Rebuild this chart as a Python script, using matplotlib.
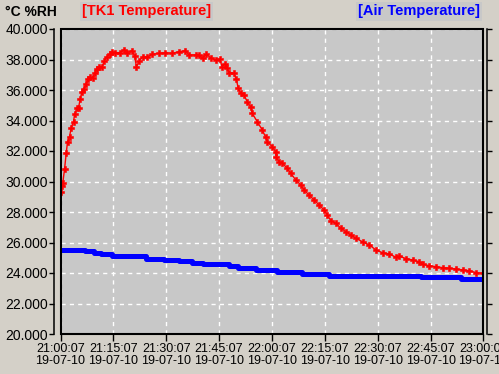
import matplotlib
matplotlib.use("Agg")
import matplotlib.pyplot as plt
from matplotlib.patches import Rectangle

plt.rcParams["font.family"] = ["Liberation Sans", "DejaVu Sans"]

# ---- data (minutes after 21:00:07) ----
tk1_minutes = [0, 0.43, 0.65, 1.14, 1.62, 1.99, 2.56, 3.04, 3.70, 3.98, 4.64, 5.12, 5.60, 6.06,
               6.54, 7.19, 7.76, 8.45, 9.10, 9.67, 10.32, 10.81, 11.74, 12.43, 13.17, 14.13,
               14.59, 15.55, 16.98, 17.90, 18.85, 20.27, 21.04, 21.53, 22.38, 23.32, 24.54,
               25.96, 27.87, 29.77, 31.65, 33.56, 35.46, 36.40, 38.30, 39.24, 40.38, 41.32,
               42.57, 43.99, 45.13, 45.87, 46.64, 47.29, 47.77, 49.20, 49.85, 50.42, 51.10,
               52.04, 52.98, 53.94, 54.40, 55.82, 57.24, 58.21, 58.66, 60.09, 61.05, 61.22,
               62.00, 62.93, 64.35, 65.32, 66.74, 68.16, 69.10, 70.52, 71.94, 73.36, 74.78,
               75.72, 76.69, 78.11, 79.53, 80.96, 82.38, 83.80, 85.68, 87.58, 89.49, 91.36,
               93.27, 95.18, 96.11, 98.02, 99.90, 101.80, 102.74, 104.64, 106.55, 108.43,
               110.33, 112.24, 114.11, 116.02, 117.92, 119.80]
tk1_values = [29.30, 29.72, 29.90, 30.80, 31.85, 32.60, 32.94, 33.53, 33.92, 34.40, 34.80, 34.84,
              35.41, 35.89, 36.05, 36.40, 36.70, 36.83, 36.77, 37.10, 37.40, 37.50, 37.49, 37.90,
              38.18, 38.36, 38.47, 38.45, 38.45, 38.62, 38.45, 38.58, 38.23, 37.53, 37.92, 38.18,
              38.14, 38.34, 38.40, 38.45, 38.40, 38.51, 38.58, 38.30, 38.30, 38.30, 38.08, 38.34,
              38.12, 37.97, 38.03, 37.53, 37.70, 37.46, 37.13, 37.10, 36.70, 36.15, 35.78, 35.67,
              35.23, 34.90, 34.47, 33.92, 33.38, 32.90, 32.60, 32.28, 31.95, 31.59, 31.30, 31.19,
              30.87, 30.54, 30.10, 29.77, 29.44, 29.11, 28.79, 28.46, 28.13, 27.80, 27.43, 27.26,
              26.93, 26.71, 26.49, 26.27, 26.05, 25.84, 25.51, 25.33, 25.25, 25.03, 25.11, 24.94,
              24.85, 24.74, 24.57, 24.48, 24.41, 24.35, 24.31, 24.26, 24.20, 24.15, 24.02, 23.98]

air_minutes = [0, 7.02, 9.38, 11.37, 14.50, 24.31, 29.29, 33.55, 37.34, 40.38, 47.77, 50.47,
               55.45, 61.51, 68.62, 76.21, 102.28, 113.74, 120]
air_values = [25.51, 25.44, 25.33, 25.25, 25.10, 24.92, 24.87, 24.77, 24.68, 24.57, 24.48, 24.31,
              24.18, 24.05, 23.96, 23.82, 23.72, 23.61, 23.61]

x_ticks = [0, 15, 30, 45, 60, 75, 90, 105, 120]
x_labels = ["21:00:07\n19-07-10", "21:15:07\n19-07-10", "21:30:07\n19-07-10",
            "21:45:07\n19-07-10", "22:00:07\n19-07-10", "22:15:07\n19-07-10",
            "22:30:07\n19-07-10", "22:45:07\n19-07-10", "23:00:07\n19-07-10"]
y_ticks = [20, 22, 24, 26, 28, 30, 32, 34, 36, 38, 40]
y_labels = ["%.3f" % v for v in y_ticks]

W, H = 499, 374
fig = plt.figure(figsize=(W / 100, H / 100), dpi=100)
fig.patch.set_facecolor("#d4d0c8")
ax = fig.add_axes([60.5 / W, 40 / H, 423 / W, 305 / H])
ax.set_facecolor("#c8c8c8")

ax.plot(air_minutes, air_values, color="#0000ff", linewidth=3.6, drawstyle="steps-post",
        solid_capstyle="butt", zorder=3)
ax.plot(tk1_minutes, tk1_values, color="#ff0000", linewidth=1.0, marker="P",
        markersize=5, markeredgewidth=0.4, markeredgecolor="#ff0000", zorder=4)

ax.set_xlim(0, 120)
ax.set_ylim(20, 40)
ax.set_xticks(x_ticks)
ax.set_xticklabels(x_labels, fontsize=9, linespacing=1.0)
ax.set_yticks(y_ticks)
ax.set_yticklabels(y_labels, fontsize=9)

ax.grid(True, color="white", linestyle=(0, (3, 3)), linewidth=1.0)
ax.set_axisbelow(True)

ax.spines["top"].set_visible(False)
ax.spines["left"].set_position(("outward", 4.6))
ax.spines["right"].set_position(("outward", 2.4))
for s in ["left", "right", "bottom"]:
    ax.spines[s].set_linewidth(1.1)
    ax.spines[s].set_color("black")

ax.tick_params(axis="y", which="both", left=True, right=True, labelright=False,
               direction="out", length=3.6, width=1, pad=1.0, colors="black")
ax.tick_params(axis="x", direction="out", length=5, width=1, pad=1.5, colors="black")

ax.add_patch(Rectangle((0, 0), 1, 1, transform=ax.transAxes, fill=False,
                       edgecolor="black", linewidth=1.5, zorder=5, clip_on=False))

fig.text(5 / W, 1 - 12 / H, "°C %RH", fontweight="bold",
         fontsize=10, color="black", ha="left", va="center")
fig.text(82 / W, 1 - 11.5 / H, "[TK1 Temperature]",
         fontweight="bold", fontsize=10.5, color="#ff0000", ha="left", va="center",
         bbox=dict(facecolor="#c8c8c8", edgecolor="none", pad=1.5))
fig.text(480 / W, 1 - 11.5 / H, "[Air Temperature]",
         fontweight="bold", fontsize=10.5, color="#0000ff", ha="right", va="center",
         bbox=dict(facecolor="#c8c8c8", edgecolor="none", pad=1.5))

fig.savefig("out.png", dpi=100, facecolor=fig.get_facecolor())
